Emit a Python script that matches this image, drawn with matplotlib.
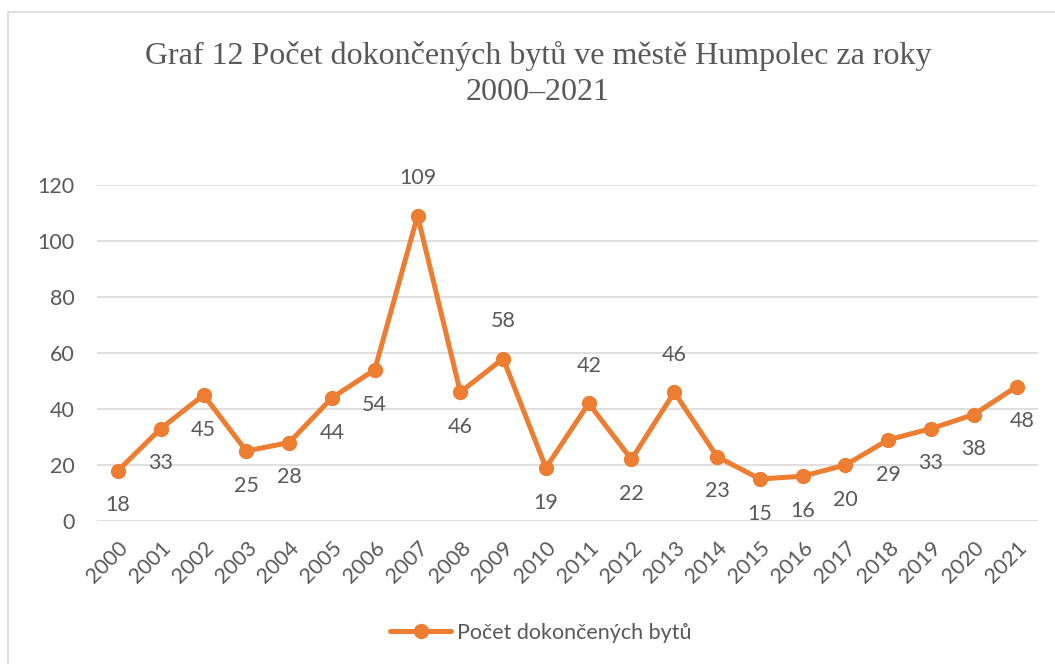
import matplotlib.pyplot as plt
from matplotlib.patches import Rectangle

# data
roky = [str(r) for r in range(2000, 2022)]
byty = [18, 33, 45, 25, 28, 44, 54, 109, 46, 58, 19, 42, 22, 46, 23, 15, 16, 20, 29, 33, 38, 48]

# which labels sit above the point (the rest go below)
nad = ['2007', '2009', '2011', '2013']

oranzova = '#ED7D31'
seda = '#595959'
pismo = 15.5

fig = plt.figure(figsize=(10.55, 6.64), dpi=100)
fig.patches.append(Rectangle((8 / 1055, -0.1), 1.2, 1 - 12 / 664 + 0.1,
                             transform=fig.transFigure, fill=False,
                             edgecolor='#D9D9D9', linewidth=1.2))

ax = fig.add_axes([96.6 / 1055, 1 - 521 / 664, (1038 - 96.6) / 1055, (521 - 185) / 664])
x = list(range(len(roky)))
ax.plot(x, byty, color=oranzova, linewidth=3.6, marker='o', markersize=10,
        solid_capstyle='round', label='Počet dokončených bytů')

for i, (r, v) in enumerate(zip(roky, byty)):
    if r in nad:
        off = (0, 27)
    elif r == '2021':
        off = (4, -25)
    else:
        off = (0, -25)
    ax.annotate(str(v), (i, v), xytext=off, textcoords='offset points',
                ha='center', va='center', fontsize=pismo, color=seda, family='Lato')

ax.set_xlim(-0.5, len(roky) - 0.5)
ax.set_ylim(0, 120)
ax.set_yticks(range(0, 121, 20))
ax.set_xticks(x)
ax.set_xticklabels(roky, rotation=45, ha='right', rotation_mode='anchor')
ax.grid(axis='y', color='#D9D9D9', linewidth=1.2)
ax.set_axisbelow(True)
for s in ax.spines.values():
    s.set_visible(False)
ax.tick_params(length=0, labelsize=pismo, labelcolor=seda)
ax.tick_params(axis='y', pad=16)
ax.tick_params(axis='x', pad=12)
for t in ax.get_xticklabels() + ax.get_yticklabels():
    t.set_family('Lato')
ax.patch.set_alpha(0)

fig.text(538 / 1055, 1 - 56 / 664, 'Graf 12 Počet dokončených bytů ve městě Humpolec za roky',
         ha='center', va='center', fontsize=23, color=seda, family='Liberation Serif')
fig.text(538 / 1055, 1 - 93 / 664, '2000–2021',
         ha='center', va='center', fontsize=23, color=seda, family='Liberation Serif')

leg = fig.legend(loc='center', bbox_to_anchor=(541 / 1055, 1 - 633 / 664), frameon=False,
                 prop={'family': 'Lato', 'size': pismo}, handlelength=2.8, handletextpad=0.3)
for t in leg.get_texts():
    t.set_color(seda)

fig.savefig('out.png', dpi=100)
